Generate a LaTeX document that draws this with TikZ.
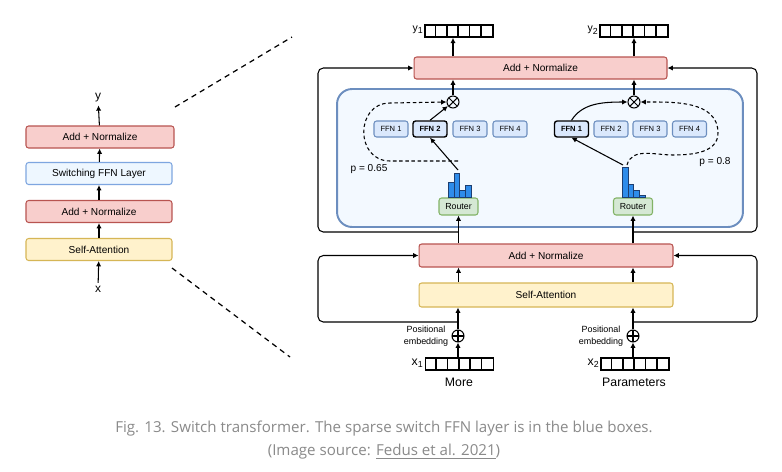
\documentclass[tikz,border=0pt]{standalone}
\usepackage{fontspec}
\setmainfont{Liberation Sans}
\newfontfamily\capfont{Open Sans}
\usetikzlibrary{arrows.meta}

\definecolor{anfill}{HTML}{F8CECC}
\definecolor{andraw}{HTML}{B85450}
\definecolor{safill}{HTML}{FFF2CC}
\definecolor{sadraw}{HTML}{D6B656}
\definecolor{swfill}{HTML}{EEF7FF}
\definecolor{swdraw}{HTML}{7EA6E0}
\definecolor{ffnfill}{HTML}{DAE8FC}
\definecolor{ffndraw}{HTML}{6C8EBF}
\definecolor{rtfill}{HTML}{D5E8D4}
\definecolor{rtdraw}{HTML}{82B366}
\definecolor{barfill}{HTML}{2E8CEA}
\definecolor{bardraw}{HTML}{1D3E70}
\definecolor{capgray}{HTML}{8A8A8A}

\tikzset{
  box/.style={draw, rounded corners=1.5pt, line width=0.6pt, inner sep=0pt,
    font=\fontsize{5.75}{6}\selectfont},
  addnorm/.style={box, fill=anfill, draw=andraw},
  selfatt/.style={box, fill=safill, draw=sadraw},
  switchffn/.style={box, fill=swfill, draw=swdraw},
  ffn/.style={box, fill=ffnfill, draw=ffndraw, minimum width=0.68cm, minimum height=0.32cm,
    font=\fontsize{4.3}{5}\selectfont},
  ffnsel/.style={ffn, draw=black, line width=0.8pt, font=\fontsize{4.3}{5}\selectfont\bfseries},
  router/.style={box, fill=rtfill, draw=rtdraw, minimum width=0.78cm, minimum height=0.34cm,
    font=\fontsize{5}{6}\selectfont},
  cellrow/.style={draw, line width=0.9pt, minimum width=1.36cm, minimum height=0.24cm, inner sep=0pt},
  otimes/.style={circle, draw, minimum size=0.24cm, inner sep=0pt, line width=0.6pt,
    path picture={\draw[line width=0.6pt] (path picture bounding box.south west) -- (path picture bounding box.north east)
      (path picture bounding box.north west) -- (path picture bounding box.south east);}},
  oplus/.style={circle, draw, minimum size=0.24cm, inner sep=0pt, line width=0.6pt,
    path picture={\draw[line width=0.6pt] (path picture bounding box.south) -- (path picture bounding box.north)
      (path picture bounding box.west) -- (path picture bounding box.east);}},
  lbl/.style={font=\fontsize{5.75}{6}\selectfont, inner sep=0pt},
  bar/.style={fill=barfill, draw=bardraw, line width=0.4pt},
  conn/.style={-{Latex[length=3pt,width=3pt]}, line width=0.6pt},
  skip/.style={dash pattern=on 2pt off 1.5pt, line width=0.6pt}
}

\begin{document}
\begin{tikzpicture}[x=0.02cm, y=-0.02cm]
        \useasboundingbox[fill=white] (0,0) rectangle (782,471);

        \node[addnorm, minimum width=2.96cm, minimum height=0.44cm] (lan2) at (100,137) {Add + Normalize};
        \node[switchffn, minimum width=2.92cm, minimum height=0.44cm] (lsw) at (99,173.5) {Switching FFN Layer};
        \node[addnorm, minimum width=2.92cm, minimum height=0.44cm] (lan1) at (99,211.5) {Add + Normalize};
        \node[selfatt, minimum width=2.92cm, minimum height=0.44cm] (lsa) at (99,249.5) {Self-Attention};
        \node[lbl, inner sep=1.5pt, font=\fontsize{6.8}{7}\selectfont] (ly) at (98,98) {y};
        \node[lbl, inner sep=1.5pt, font=\fontsize{6.8}{7}\selectfont] (lx) at (98,289) {x};

        \draw[conn] (lx) -- (lsa);
        \draw[conn] (lsa) -- (lan1);
        \draw[conn] (lan1) -- (lsw);
        \draw[conn] (lsw) -- (lan2);
        \draw[conn] (lan2) -- (ly);

        \coordinate (zt) at (175,107);
        \coordinate (zb) at (172,268);
        \draw[dash pattern=on 3pt off 2.5pt, line width=0.7pt] (zt) -- (292,37);
        \draw[dash pattern=on 3pt off 2.5pt, line width=0.7pt] (zb) -- (290,357);

        \node[draw=ffndraw, fill=swfill!70!white, line width=1.1pt, rounded corners=0.3cm,
              minimum width=8.12cm, minimum height=2.76cm] (moe) at (540,158) {};

        \node[addnorm, minimum width=5.06cm, minimum height=0.44cm] (tan) at (540.5,68) {Add + Normalize};
        \node[addnorm, minimum width=5.08cm, minimum height=0.46cm] (ban) at (546,255.5) {Add + Normalize};
        \node[selfatt, minimum width=5.08cm, minimum height=0.48cm] (bsa) at (546,295) {Self-Attention};

        \node[ffn] (ffnl1) at (391,129) {FFN 1};
        \node[ffnsel] (ffnl2) at (430,129) {FFN 2};
        \node[ffn] (ffnl3) at (470,129) {FFN 3};
        \node[ffn] (ffnl4) at (510,129) {FFN 4};
        \node[ffnsel] (ffnr1) at (571.5,129) {FFN 1};
        \node[ffn] (ffnr2) at (611,129) {FFN 2};
        \node[ffn] (ffnr3) at (650,129) {FFN 3};
        \node[ffn] (ffnr4) at (689.5,129) {FFN 4};

        \node[router] (rtl) at (458.5,206.5) {Router};
        \node[router] (rtr) at (633,206.5) {Router};

        \draw[bar] (448,197) rectangle (454,182);
        \draw[bar] (454,197) rectangle (459,173);
        \draw[bar] (459,197) rectangle (465,190);
        \draw[bar] (465,197) rectangle (471,185);
        \draw[bar] (622,197) rectangle (628,167);
        \draw[bar] (628,197) rectangle (633,184);
        \draw[bar] (633,197) rectangle (639,190);
        \draw[bar] (639,197) rectangle (645,195);
        \coordinate (hl) at (458,170);
        \coordinate (hld) at (458,161);
        \coordinate (hr) at (623,165);
        \coordinate (hrd) at (627,165);

        \node[otimes] (otl) at (453,102) {};
        \node[otimes] (otr) at (634,102) {};

        \draw[conn] (hl) -- (ffnl2.south);
        \draw[conn] (ffnl2.north) -- (otl);
        \draw[conn, skip] (hld) -- (390,161) .. controls (355,161) and (355,103) .. (390,103) -- (otl.west);
        \node[lbl] (pl) at (369,169) {p = 0.65};

        \draw[conn] (hr) -- (ffnr1.south);
        \draw[conn] (ffnr1.north) .. controls (582,104) and (600,102) .. (otr.west);
        \draw[conn, skip] (hrd) to[out=75,in=180] (673,155) to[out=0,in=270] (718,133) to[out=90,in=0] (otr.east);
        \node[lbl] (pr) at (715,162) {p = 0.8};

        \node[cellrow] (y1cells) at (459,31) {};
        \node[cellrow] (y2cells) at (634,31) {};
        \node[cellrow] (x1cells) at (459.5,364) {};
        \node[cellrow] (x2cells) at (635,364) {};
        \foreach \c in {y1cells,y2cells,x1cells,x2cells}
            \foreach \i in {1,...,5}
                \draw[line width=0.9pt] ([xshift=\i*0.2267cm]\c.south west) -- ([xshift=\i*0.2267cm]\c.north west);

        \node[lbl, anchor=east, font=\fontsize{6}{7}\selectfont] (y1lab) at (424,30) {y\textsubscript{1}};
        \node[lbl, anchor=east, font=\fontsize{6}{7}\selectfont] (y2lab) at (599,30) {y\textsubscript{2}};
        \node[lbl, anchor=east, font=\fontsize{7}{8}\selectfont] (x1lab) at (424,363) {x\textsubscript{1}};
        \node[lbl, anchor=east, font=\fontsize{7}{8}\selectfont] (x2lab) at (600,363) {x\textsubscript{2}};
        \node[lbl, font=\fontsize{7}{8}\selectfont] (w1) at (459,382) {More};
        \node[lbl, font=\fontsize{7}{8}\selectfont] (w2) at (634,382) {Parameters};

        \node[oplus] (opl) at (458,336) {};
        \node[oplus] (opr) at (633,336) {};
        \node[lbl, align=center, font=\fontsize{5.1}{6.6}\selectfont] (pel) at (426,336) {Positional\\embedding};
        \node[lbl, align=center, font=\fontsize{5.1}{6.6}\selectfont] (per) at (601,336) {Positional\\embedding};

        \draw[conn] (otl) -- (tan.south -| otl);
        \draw[conn] (otr) -- (tan.south -| otr);
        \draw[conn] (tan.north -| otl) -- (y1cells.south -| otl);
        \draw[conn] (tan.north -| otr) -- (y2cells.south -| otr);

        \draw[conn] (ban.north -| rtl) -- (rtl.south);
        \draw[conn] (ban.north -| rtr) -- (rtr.south);
        \draw[conn] (bsa.north -| rtl) -- (ban.south -| rtl);
        \draw[conn] (bsa.north -| rtr) -- (ban.south -| rtr);
        \draw[conn] (opl) -- (bsa.south -| opl);
        \draw[conn] (opr) -- (bsa.south -| opr);
        \draw[conn] (x1cells.north -| opl) -- (opl);
        \draw[conn] (x2cells.north -| opr) -- (opr);

        \coordinate (jl) at (458,232);
        \coordinate (jr) at (633,232);
        \coordinate (kl) at (458,322);
        \coordinate (kr) at (633,322);
        \draw[conn, rounded corners=3pt] (jl) -- (318,232) -- (318,68) -- (tan.west);
        \draw[conn, rounded corners=3pt] (jr) -- (757,232) -- (757,68) -- (tan.east);
        \draw[conn, rounded corners=3pt] (kl) -- (318,322) -- (318,255.5) -- (ban.west);
        \draw[conn, rounded corners=3pt] (kr) -- (757,322) -- (757,255.5) -- (ban.east);

        \node[text=capgray, font=\capfont\fontsize{8.6}{10}\selectfont] (cap1) at (384,429)
            {Fig. 13. Switch transformer. The sparse switch FFN layer is in the blue boxes.};
        \node[text=capgray, font=\capfont\fontsize{8.6}{10}\selectfont] (cap2) at (384,452)
            {(Image source: \underline{Fedus et al. 2021})};
    \end{tikzpicture}
\end{document}
